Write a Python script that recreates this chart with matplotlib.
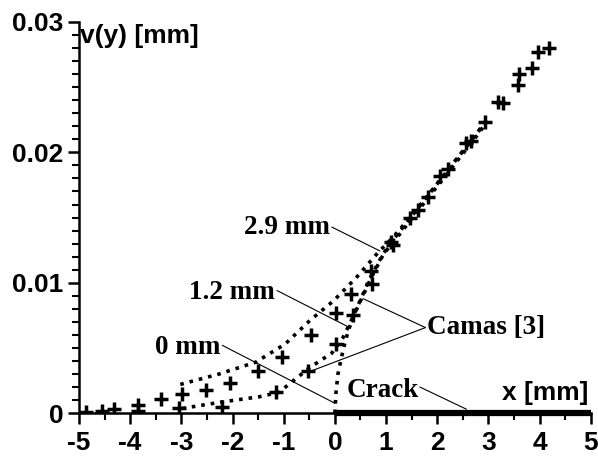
import matplotlib
matplotlib.use("Agg")
import matplotlib.pyplot as plt
from matplotlib.ticker import MultipleLocator

plt.rcParams["axes.unicode_minus"] = False

# measured points (+)
x_meas = [-4.86, -4.54, -4.31, -3.85, -3.85, -3.40, -2.98, -3.05, -2.52, -2.05,
          -2.21, -1.50, -1.16, -1.04, -0.47, -0.52, 0.02, 0.03, 0.36, 0.32,
          0.71, 0.73, 1.10, 1.14, 1.46, 1.62, 1.82, 2.05, 2.21, 2.57,
          2.66, 2.94, 3.18, 3.28, 3.57, 3.59, 3.85, 3.96, 4.19]
v_meas = [0.0001, 0.00015, 0.0003, 0.0006, 0.0002, 0.0011, 0.0015, 0.0004, 0.0018, 0.0023,
          0.0005, 0.0032, 0.0016, 0.0043, 0.0060, 0.0032, 0.0053, 0.0077, 0.0075, 0.0091,
          0.0109, 0.0099, 0.0131, 0.0129, 0.0150, 0.0156, 0.0166, 0.0182, 0.0187, 0.0207,
          0.0209, 0.0223, 0.0239, 0.0238, 0.0252, 0.0260, 0.0265, 0.0277, 0.0280]

# Camas [3] curves (dotted)
x_29 = [-3.02, -2.26, -1.55, -0.97, -0.49, -0.03, 0.42, 0.84, 1.14, 1.40, 1.80, 2.20, 2.60, 2.98]
v_29 = [0.0022, 0.0030, 0.0039, 0.0053, 0.0071, 0.0086, 0.0104, 0.0123, 0.0135, 0.0147, 0.0166, 0.0186, 0.0206, 0.0225]

x_12 = [-2.98, -2.20, -1.48, -1.09, -0.49, -0.06, 0.16, 0.32, 0.49, 0.68, 0.94, 1.20, 1.60, 2.00, 2.40, 2.80, 3.00]
v_12 = [0.00036, 0.00086, 0.00125, 0.0016, 0.0035, 0.0046, 0.0058, 0.0071, 0.0086, 0.0103, 0.0122, 0.0136, 0.0156, 0.0176, 0.0196, 0.0216, 0.0226]

x_0 = [0.0, 0.02, 0.06, 0.13, 0.19, 0.26, 0.36, 0.50, 0.70, 0.95, 1.20, 1.60, 2.00, 2.40, 2.80, 2.96]
v_0 = [0.0, 0.0015, 0.0030, 0.0043, 0.0053, 0.0063, 0.0074, 0.0086, 0.0103, 0.0122, 0.0134, 0.0154, 0.0174, 0.0194, 0.0214, 0.0223]

crack_x = [0, 5]
crack_v = [0, 0]

fig = plt.figure(figsize=(5.98, 4.58), dpi=100)
ax = fig.add_axes([0.132, 0.098, 0.856, 0.854])

for xs, vs in [(x_29, v_29), (x_12, v_12), (x_0, v_0)]:
    ax.plot(xs, vs, color="black", linestyle=":", linewidth=2.6)

ax.plot(x_meas, v_meas, linestyle="none", marker="+", color="black",
        markersize=10, markeredgewidth=2.5)

ax.plot(crack_x, crack_v, color="black", linewidth=4.5, solid_capstyle="butt",
        clip_on=False, zorder=5)

ax.set_xlim(-5, 5)
ax.set_ylim(0, 0.03)
ax.xaxis.set_major_locator(MultipleLocator(1))
ax.xaxis.set_minor_locator(MultipleLocator(0.5))
ax.yaxis.set_major_locator(MultipleLocator(0.01))
ax.yaxis.set_minor_locator(MultipleLocator(0.001))
ax.set_yticks([0, 0.01, 0.02, 0.03])
ax.set_yticklabels(["0", "0.01", "0.02", "0.03"])

for s in ["top", "right"]:
    ax.spines[s].set_visible(False)
for s in ["left", "bottom"]:
    ax.spines[s].set_linewidth(1.8)

ax.tick_params(which="major", direction="out", length=8, width=1.8, pad=3,
               labelsize=19)
ax.tick_params(axis="x", which="major", pad=5)
ax.tick_params(which="minor", direction="out", length=5, width=1.5)
for lab in ax.get_xticklabels() + ax.get_yticklabels():
    lab.set_fontfamily("Liberation Sans")
    lab.set_fontweight("bold")

sans = dict(family="Liberation Sans", weight="bold", fontsize=19)
serif = dict(family="Liberation Serif", weight="bold", fontsize=19.5)

ax.text(-4.97, 0.0289, "v(y) [mm]", ha="left", va="center", **sans)
ax.text(4.95, 0.00153, "x [mm]", ha="right", va="center", **sans)

line = dict(arrowstyle="-", color="black", linewidth=0.8, shrinkA=0, shrinkB=0)

ax.text(-0.10, 0.0142, "2.9 mm", ha="right", va="center", **serif)
ax.annotate("", xy=(0.88, 0.01244), xytext=(-0.06, 0.01427), arrowprops=line)

ax.text(-1.17, 0.00924, "1.2 mm", ha="right", va="center", **serif)
ax.annotate("", xy=(0.25, 0.00664), xytext=(-1.13, 0.0094), arrowprops=line)

ax.text(-2.24, 0.00504, "0 mm", ha="right", va="center", **serif)
ax.annotate("", xy=(0.0, 0.00076), xytext=(-2.20, 0.0052), arrowprops=line)

ax.text(1.79, 0.00656, "Camas [3]", ha="left", va="center", **serif)
ax.annotate("", xy=(0.55, 0.00878), xytext=(1.77, 0.00656), arrowprops=line)
ax.annotate("", xy=(-0.43, 0.00328), xytext=(1.77, 0.00656), arrowprops=line)

ax.text(0.23, 0.00176, "Crack", ha="left", va="center", **serif)
ax.annotate("", xy=(2.57, 0.0003), xytext=(1.66, 0.0020), arrowprops=line)

fig.savefig("out.png", dpi=100)
